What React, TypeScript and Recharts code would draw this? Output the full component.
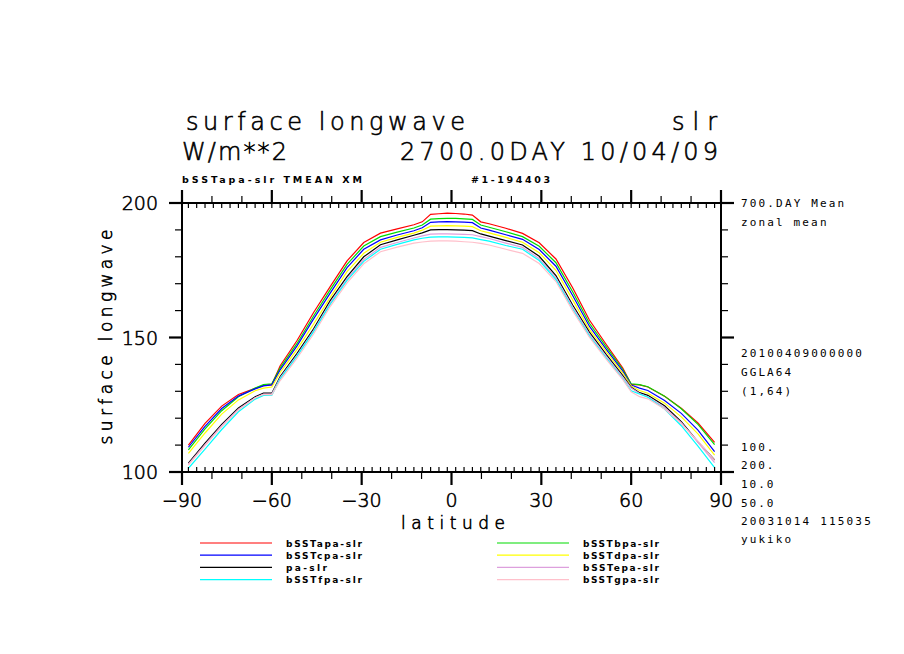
import { LineChart, Line, XAxis, YAxis } from 'recharts'

// latitudes (T42 gaussian grid points picked along the curve)
const LATS = [
  -87.86, -82.31, -76.74, -71.16, -65.58, -62.79, -60.0, -57.21, -51.63, -46.05,
  -40.46, -34.88, -29.3, -23.72, -18.14, -12.56, -9.77, -6.98, -4.19, -1.4,
  1.4, 4.19, 6.98, 9.77, 12.56, 18.14, 23.72, 29.3, 34.88, 40.46,
  46.05, 51.63, 57.21, 60.0, 62.79, 65.58, 71.16, 76.74, 82.31, 87.86,
]

const APA = [
  110.0, 118.1, 124.5, 128.8, 131.1, 132.2, 132.5, 139.5, 148.8, 159.3,
  169.0, 178.5, 185.3, 188.8, 190.4, 191.9, 193.0, 195.8, 196.0, 196.2,
  196.1, 195.9, 195.5, 193.0, 192.3, 190.6, 188.7, 185.2, 179.2, 168.5,
  156.5, 147.5, 138.6, 132.6, 132.4, 131.6, 128.2, 123.7, 118.2, 111.0,
]
const BPA = [
  108.2, 116.0, 122.8, 128.0, 131.2, 132.5, 132.8, 138.7, 147.7, 158.0,
  167.8, 177.2, 184.0, 187.5, 189.2, 190.7, 191.8, 194.0, 194.2, 194.3,
  194.3, 194.1, 193.9, 191.8, 191.0, 189.3, 187.5, 183.9, 177.8, 167.0,
  155.3, 146.6, 138.1, 132.8, 132.5, 131.7, 128.2, 123.5, 117.7, 110.2,
]
const CPA = [
  109.2, 117.0, 123.6, 128.2, 130.9, 132.0, 132.4, 138.0, 146.8, 156.9,
  166.6, 176.0, 182.8, 186.3, 188.1, 189.7, 190.8, 192.8, 193.0, 193.1,
  193.0, 192.9, 192.7, 190.7, 189.9, 188.2, 186.5, 182.7, 176.5, 165.6,
  154.2, 145.7, 137.5, 132.3, 131.2, 130.3, 126.6, 121.8, 115.6, 107.6,
]
const DPA = [
  106.9, 114.5, 121.5, 126.8, 130.2, 131.2, 131.6, 137.0, 145.5, 155.0,
  165.0, 174.5, 181.3, 185.4, 187.2, 188.8, 189.9, 191.4, 191.5, 191.6,
  191.5, 191.4, 191.2, 189.7, 188.9, 187.2, 185.4, 181.5, 175.0, 164.0,
  153.0, 144.8, 136.8, 132.0, 130.3, 129.3, 125.6, 120.5, 114.2, 106.3,
]
const PA = [
  103.3, 110.7, 117.7, 123.8, 128.0, 129.3, 129.3, 135.5, 144.0, 153.2,
  163.8, 172.6, 180.0, 184.5, 186.3, 188.0, 188.9, 190.0, 190.1, 190.1,
  190.0, 189.9, 189.7, 188.5, 187.7, 186.0, 184.4, 180.2, 173.0, 162.1,
  152.0, 143.7, 135.8, 131.5, 129.5, 128.5, 124.6, 118.7, 111.2, 104.5,
]
const EPA = [
  102.9, 110.2, 117.2, 123.3, 127.6, 129.0, 129.0, 135.0, 143.4, 152.6,
  163.0, 171.8, 179.0, 183.5, 185.3, 187.0, 187.8, 188.4, 188.5, 188.5,
  188.4, 188.3, 188.2, 187.5, 186.8, 185.1, 183.5, 179.3, 172.2, 161.3,
  151.3, 143.1, 135.3, 131.2, 129.2, 128.0, 124.0, 118.3, 111.0, 103.5,
]
const FPA = [
  101.4, 108.5, 115.8, 122.4, 127.1, 128.5, 128.6, 134.6, 143.0, 152.2,
  162.4, 171.2, 178.3, 182.8, 184.6, 186.3, 186.9, 187.3, 187.4, 187.4,
  187.3, 187.2, 187.0, 186.4, 185.8, 184.2, 182.8, 178.6, 171.5, 160.6,
  150.6, 142.4, 134.6, 130.2, 129.0, 127.8, 123.4, 117.2, 109.6, 101.6,
]
const GPA = [
  102.6, 109.8, 116.8, 123.0, 127.5, 128.8, 128.8, 134.0, 142.2, 151.3,
  161.6, 170.3, 177.4, 181.9, 183.6, 185.1, 185.5, 185.8, 185.9, 185.9,
  185.8, 185.6, 185.4, 185.0, 184.4, 182.8, 181.3, 177.5, 170.8, 160.0,
  150.1, 142.0, 134.3, 129.8, 128.0, 127.2, 123.4, 118.0, 111.5, 104.3,
]

// drawing order = legend order (row by row, two columns)
const SERIES = [
  { key: 'apa', name: 'bSSTapa-slr', color: '#ff0000', values: APA },
  { key: 'bpa', name: 'bSSTbpa-slr', color: '#00dc00', values: BPA },
  { key: 'cpa', name: 'bSSTcpa-slr', color: '#0000ff', values: CPA },
  { key: 'dpa', name: 'bSSTdpa-slr', color: '#ffff00', values: DPA },
  { key: 'pa', name: 'pa-slr', color: '#000000', values: PA },
  { key: 'epa', name: 'bSSTepa-slr', color: '#dda0dd', values: EPA },
  { key: 'fpa', name: 'bSSTfpa-slr', color: '#00ffff', values: FPA },
  { key: 'gpa', name: 'bSSTgpa-slr', color: '#ffc0cb', values: GPA },
]

const X_MAJOR = [-90, -60, -30, 0, 30, 60, 90]
const X_MINOR = [-80, -70, -50, -40, -20, -10, 10, 20, 40, 50, 70, 80]
const GAUSS = [
  -87.86, -85.1, -82.31, -79.53, -76.74, -73.95, -71.16, -68.37, -65.58, -62.79,
  -59.997, -57.21, -54.42, -51.63, -48.84, -46.05, -43.25, -40.46, -37.67, -34.88,
  -32.09, -29.3, -26.51, -23.72, -20.93, -18.14, -15.35, -12.56, -9.77, -6.98,
  -4.19, -1.4, 1.4, 4.19, 6.98, 9.77, 12.56, 15.35, 18.14, 20.93,
  23.72, 26.51, 29.3, 32.09, 34.88, 37.67, 40.46, 43.25, 46.05, 48.84,
  51.63, 54.42, 57.21, 59.997, 62.79, 65.58, 68.37, 71.16, 73.95, 76.74,
  79.53, 82.31, 85.1, 87.86,
]
const X_TICKS = [...X_MAJOR, ...X_MINOR, ...GAUSS].sort((a, b) => a - b)
const Y_TICKS = [100, 110, 120, 130, 140, 150, 160, 170, 180, 190, 200]

const RIGHT_NOTES = [
  { text: '700.DAY Mean', y: 207 },
  { text: 'zonal mean', y: 226 },
  { text: '20100409000000', y: 357 },
  { text: 'GGLA64', y: 376 },
  { text: '(1,64)', y: 395 },
  { text: '100.', y: 451 },
  { text: '200.', y: 469 },
  { text: '10.0', y: 488 },
  { text: '50.0', y: 507 },
  { text: '20031014 115035', y: 525 },
  { text: 'yukiko', y: 543 },
]

const data = LATS.map((lat, i) => {
  const row: Record<string, number> = { lat }
  SERIES.forEach((s) => {
    row[s.key] = s.values[i]
  })
  return row
})

const FONT = '"DejaVu Sans", sans-serif'
// light face stroked a little, to get the thin black plotter-like lettering
const thinText = { fontFamily: FONT, fontWeight: 200, fill: '#000', stroke: '#000', strokeWidth: 0.6 }

function BottomTick(props: any) {
  const { x, y, payload } = props
  const v = payload.value
  if (!Number.isInteger(v)) {
    return <line x1={x} x2={x} y1={y} y2={y - 5} stroke="#000" strokeWidth={1.2} />
  }
  if (v % 30 === 0) {
    return (
      <g>
        <line x1={x} x2={x} y1={y} y2={y + 13} stroke="#000" strokeWidth={2.2} />
        <text x={x} y={y + 35} textAnchor="middle" fontSize={19} {...thinText}>
          {v < 0 ? `−${-v}` : v}
        </text>
      </g>
    )
  }
  return <line x1={x} x2={x} y1={y} y2={y + 7} stroke="#000" strokeWidth={1.2} />
}

function TopTick(props: any) {
  const { x, y, payload } = props
  const v = payload.value
  if (!Number.isInteger(v)) {
    return <line x1={x} x2={x} y1={y} y2={y + 5} stroke="#000" strokeWidth={1.2} />
  }
  if (v % 30 === 0) {
    return <line x1={x} x2={x} y1={y} y2={y - 13} stroke="#000" strokeWidth={2.2} />
  }
  return <line x1={x} x2={x} y1={y} y2={y - 7} stroke="#000" strokeWidth={1.2} />
}

function LeftTick(props: any) {
  const { x, y, payload } = props
  const v = payload.value
  if (v % 50 === 0) {
    return (
      <g>
        <line x1={x - 13} x2={x} y1={y} y2={y} stroke="#000" strokeWidth={2.2} />
        <text x={x - 24} y={y + 7} textAnchor="end" fontSize={19} {...thinText}>
          {v}
        </text>
      </g>
    )
  }
  return <line x1={x - 7} x2={x} y1={y} y2={y} stroke="#000" strokeWidth={1.2} />
}

function RightTick(props: any) {
  const { x, y, payload } = props
  const v = payload.value
  const len = v % 50 === 0 ? 13 : 7
  return <line x1={x} x2={x + len} y1={y} y2={y} stroke="#000" strokeWidth={v % 50 === 0 ? 2.2 : 1.2} />
}

const axisLine = { stroke: '#000', strokeWidth: 2 }

export default function App() {
  return (
    <div style={{ position: 'absolute', left: 0, top: 0, width: 904, height: 654, background: '#fff' }}>
      <LineChart
        width={904}
        height={654}
        data={data}
        margin={{ top: 173, right: 163, bottom: 142, left: 122 }}
      >
        <XAxis
          xAxisId="b"
          dataKey="lat"
          type="number"
          domain={[-90, 90]}
          allowDataOverflow
          ticks={X_TICKS}
          interval={0}
          tickSize={0}
          tickMargin={0}
          tickLine={false}
          axisLine={axisLine}
          tick={(p: any) => <BottomTick {...p} />}
          height={40}
        />
        <XAxis
          xAxisId="t"
          dataKey="lat"
          orientation="top"
          type="number"
          domain={[-90, 90]}
          allowDataOverflow
          ticks={X_TICKS}
          interval={0}
          tickSize={0}
          tickMargin={0}
          tickLine={false}
          axisLine={axisLine}
          tick={(p: any) => <TopTick {...p} />}
          height={30}
        />
        <YAxis
          yAxisId="l"
          type="number"
          domain={[100, 200]}
          allowDataOverflow
          ticks={Y_TICKS}
          interval={0}
          tickSize={0}
          tickMargin={0}
          tickLine={false}
          axisLine={axisLine}
          tick={(p: any) => <LeftTick {...p} />}
          width={60}
        />
        <YAxis
          yAxisId="r"
          orientation="right"
          type="number"
          domain={[100, 200]}
          allowDataOverflow
          ticks={Y_TICKS}
          interval={0}
          tickSize={0}
          tickMargin={0}
          tickLine={false}
          axisLine={axisLine}
          tick={(p: any) => <RightTick {...p} />}
          width={20}
        />
        {SERIES.map((s) => (
          <Line
            key={s.key}
            xAxisId="b"
            yAxisId="l"
            type="linear"
            dataKey={s.key}
            name={s.name}
            stroke={s.color}
            strokeWidth={1.2}
            dot={false}
            activeDot={false}
            isAnimationActive={false}
          />
        ))}
      </LineChart>

      <svg
        width={904}
        height={654}
        style={{ position: 'absolute', left: 0, top: 0, pointerEvents: 'none' }}
        fontFamily={FONT}
      >
        <g {...thinText}>
          <text x={186} y={130} fontSize={24} textLength={279} lengthAdjust="spacing">
            surface longwave
          </text>
          <text x={672} y={130} fontSize={24} textLength={45} lengthAdjust="spacing">
            slr
          </text>
          <text x={182} y={160} fontSize={24} textLength={105} lengthAdjust="spacing">
            W/m**2
          </text>
          <text x={400} y={160} fontSize={24} textLength={318} lengthAdjust="spacing">
            2700.0DAY 10/04/09
          </text>
          <text
            x={112}
            y={337}
            fontSize={17}
            textAnchor="middle"
            textLength={215}
            lengthAdjust="spacing"
            transform="rotate(-90 112 337)"
          >
            surface longwave
          </text>
          <text x={401} y={529} fontSize={17} textLength={104} lengthAdjust="spacing">
            latitude
          </text>
        </g>
        <text x={182} y={183} fontSize={9.5} fontWeight="bold" textLength={180} lengthAdjust="spacing">
          bSSTapa-slr TMEAN XM
        </text>
        <text x={471} y={183} fontSize={9.5} fontWeight="bold" textLength={79} lengthAdjust="spacing">
          #1-194403
        </text>
        {RIGHT_NOTES.map((n) => (
          <text
            key={n.text}
            x={741}
            y={n.y}
            fontSize={11}
            fontFamily='"DejaVu Sans Mono", monospace'
            textLength={n.text.length * 8.85 - 3}
            lengthAdjust="spacing"
          >
            {n.text}
          </text>
        ))}
        {SERIES.map((s, i) => {
          const col = i % 2
          const row = Math.floor(i / 2)
          const ly = 543 + row * 12.2
          const lx = col === 0 ? 200 : 497
          return (
            <g key={s.key}>
              <line x1={lx} x2={lx + 72} y1={ly} y2={ly} stroke={s.color} strokeWidth={1.2} />
              <text
                x={lx + 86}
                y={ly + 3.5}
                fontSize={9}
                fontWeight="bold"
                textLength={s.name.length * 7 - 1}
                lengthAdjust="spacing"
              >
                {s.name}
              </text>
            </g>
          )
        })}
      </svg>
    </div>
  )
}
